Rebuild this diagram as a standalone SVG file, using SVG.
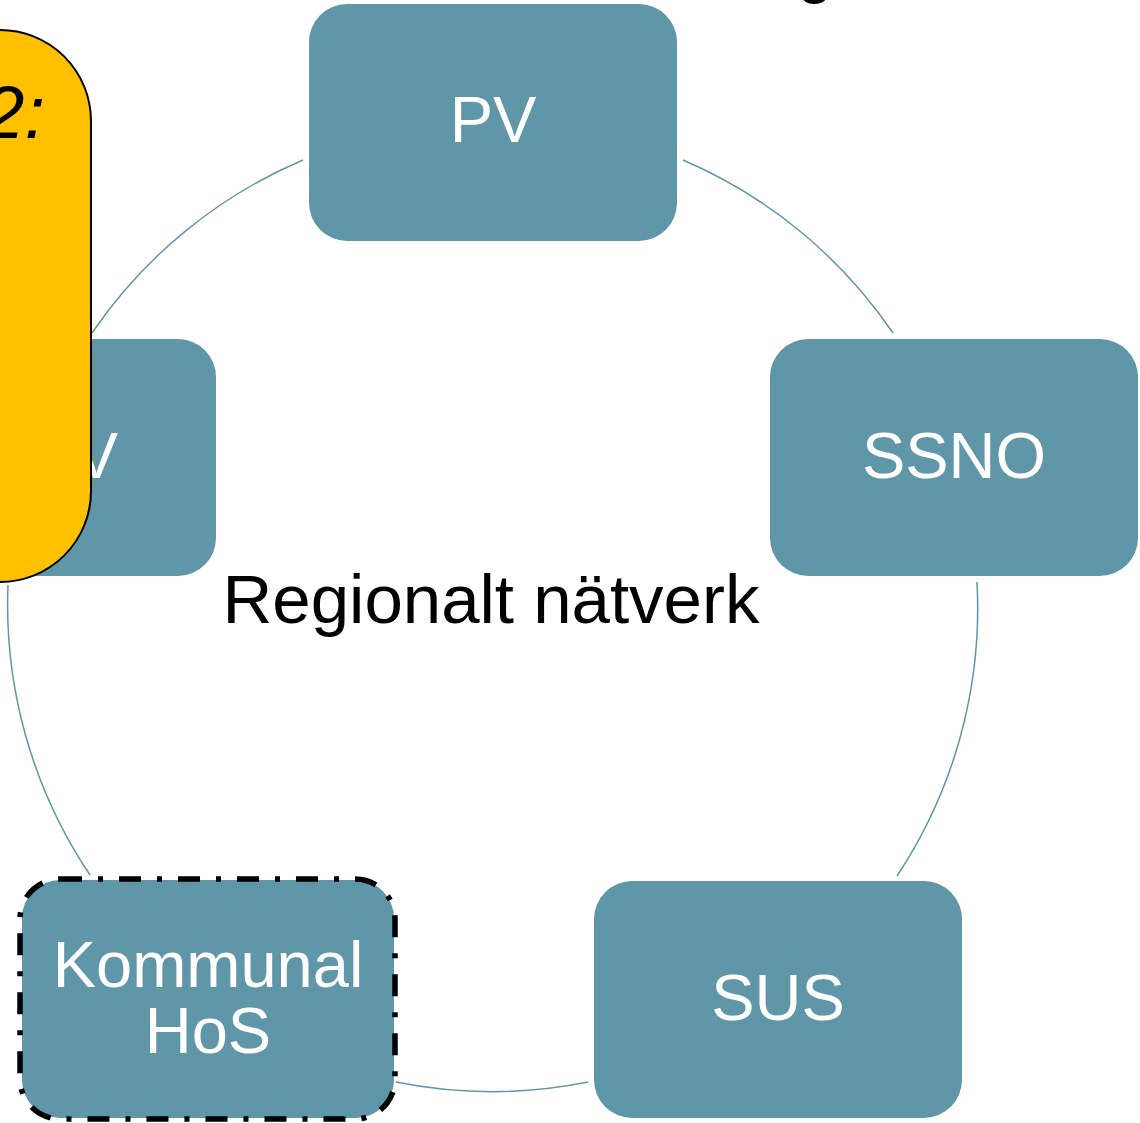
<svg xmlns="http://www.w3.org/2000/svg" width="1140" height="1123" viewBox="0 0 1140 1123">
<style>
.node{fill:#5F96A8}
.lbl{font-family:"Liberation Sans",Arial,sans-serif;font-size:65px;fill:#fff;text-anchor:middle}
.conn{fill:none;stroke:#5F96A8;stroke-width:1.5}
</style>
<rect width="1140" height="1123" fill="#fff"/>
<text x="797" y="-9" font-family="Liberation Sans,Arial,sans-serif" font-size="64" fill="#000">g</text>
<g id="connectors">
<path class="conn" d="M683,160 A485,485 0 0 1 893,333"/>
<path class="conn" d="M977,582 A485,485 0 0 1 897,876"/>
<path class="conn" d="M588,1082 A485,485 0 0 1 396,1082"/>
<path class="conn" d="M90,875 A485,485 0 0 1 8,585"/>
<path class="conn" d="M92,333 A485,485 0 0 1 303,160"/>
</g>
<g id="node-pv">
<rect class="node" x="309" y="4" width="368" height="237" rx="38"/>
<text class="lbl" x="493" y="142">PV</text>
</g>
<g id="node-ssno">
<rect class="node" x="770" y="339" width="368" height="237" rx="38"/>
<text class="lbl" x="954" y="478">SSNO</text>
</g>
<g id="node-sus">
<rect class="node" x="594" y="881" width="368" height="237" rx="38"/>
<text class="lbl" x="778" y="1020">SUS</text>
</g>
<g id="node-kommunal">
<rect class="node" x="22" y="880" width="372" height="238" rx="38"/>
<rect x="20" y="879" width="375" height="240" rx="40" fill="none" stroke="#000" stroke-width="5.5" stroke-dasharray="22 16 5 16"/>
<text class="lbl" x="208" y="987">Kommunal</text>
<text class="lbl" x="208" y="1053">HoS</text>
</g>
<g id="node-left">
<rect class="node" x="-152" y="339" width="368" height="237" rx="38"/>
<text class="lbl" x="118" y="478" style="text-anchor:end">PV</text>
</g>
<g id="center-label">
<text x="491" y="623" font-family="Liberation Sans,Arial,sans-serif" font-size="69" fill="#000" text-anchor="middle">Regionalt nätverk</text>
</g>
<g id="callout">
<rect x="-200" y="30" width="291" height="552" rx="91" fill="#FFC000" stroke="#000" stroke-width="2"/>
<text x="45" y="138" font-family="Liberation Sans,Arial,sans-serif" font-size="74" font-style="italic" fill="#000" text-anchor="end">2:</text>
</g>
</svg>
